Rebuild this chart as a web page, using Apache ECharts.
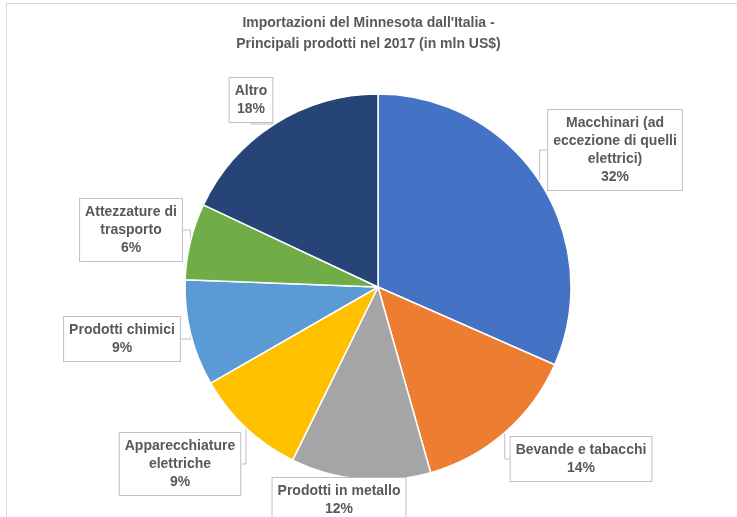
<!DOCTYPE html>
<html>
<head>
<meta charset="utf-8">
<script src="https://cdn.jsdelivr.net/npm/echarts@6/dist/echarts.min.js"></script>
<style>
html,body{margin:0;padding:0;background:#fff;}
#chart{width:737px;height:517px;}
</style>
</head>
<body>
<div id="chart"></div>
<script>
const titleText = "Importazioni del Minnesota dall'Italia -\nPrincipali prodotti nel 2017 (in mln US$)";
const categories = [
  "Macchinari (ad\neccezione di quelli\nelettrici)",
  "Bevande e tabacchi",
  "Prodotti in metallo",
  "Apparecchiature\nelettriche",
  "Prodotti chimici",
  "Attezzature di\ntrasporto",
  "Altro"
];
const values = [31.6, 14.0, 11.7, 9.4, 8.9, 6.4, 18.0];
const colors = ["#4472C4", "#ED7D31", "#A5A5A5", "#FFC000", "#5B9BD5", "#70AD47", "#264478"];

const labelPos = [
  [615, 150], [581, 459], [339, 500], [180, 464], [122, 339], [131, 230], [251, 100]
];

const FONT = 'Arial, "Liberation Sans", sans-serif';

const chart = echarts.init(document.getElementById('chart'));
const total = values.reduce((a, b) => a + b, 0);
chart.setOption({
  animation: false,
  backgroundColor: '#fff',
  title: {
    text: titleText,
    left: 'center',
    top: 8,
    textStyle: { fontFamily: FONT, fontSize: 14, fontWeight: 'bold', color: '#595959', lineHeight: 21 }
  },
  graphic: [{
    type: 'rect',
    shape: { x: 6.5, y: 3.5, width: 800, height: 600 },
    style: { fill: 'none', stroke: '#d9d9d9', lineWidth: 1 },
    silent: true
  }],
  series: [{
    type: 'pie',
    center: [378, 287],
    radius: 193,
    startAngle: 90,
    clockwise: true,
    data: categories.map((c, i) => ({ name: c, value: values[i], itemStyle: { color: colors[i] } })),
    itemStyle: { borderColor: '#fff', borderWidth: 1.5 },
    label: {
      show: true,
      position: 'outside',
      formatter: p => p.name + '\n' + Math.round(p.value / total * 100) + '%',
      fontFamily: FONT,
      fontSize: 14,
      fontWeight: 'bold',
      color: '#595959',
      lineHeight: 18,
      align: 'center',
      backgroundColor: '#fff',
      borderColor: '#bfbfbf',
      borderWidth: 1,
      padding: [4, 5, 4, 5]
    },
    labelLine: {
      show: true,
      length: 10,
      length2: 10,
      lineStyle: { color: '#bfbfbf', width: 1 }
    },
    labelLayout: function (params) {
      const p = labelPos[params.dataIndex];
      return { x: p[0], y: p[1], align: 'center', verticalAlign: 'middle' };
    }
  }]
});
</script>
</body>
</html>
